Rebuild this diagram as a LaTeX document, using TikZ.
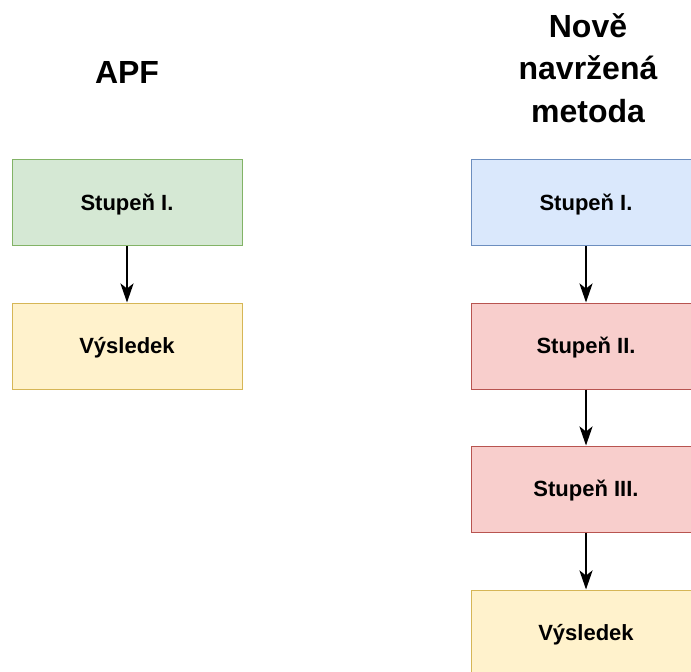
\documentclass[tikz,border=0pt]{standalone}
\usepackage{fontspec}
\setmainfont{Liberation Sans}
\usetikzlibrary{arrows.meta}
\definecolor{gfill}{HTML}{D5E8D4}\definecolor{gline}{HTML}{82B366}
\definecolor{yfill}{HTML}{FFF2CC}\definecolor{yline}{HTML}{D6B656}
\definecolor{bfill}{HTML}{DAE8FC}\definecolor{bline}{HTML}{6C8EBF}
\definecolor{rfill}{HTML}{F8CECC}\definecolor{rline}{HTML}{B85450}
\begin{document}
\begin{tikzpicture}[x=1pt,y=-1pt,
  box/.style={draw, line width=1pt, minimum width=230pt, minimum height=86pt, inner sep=0pt,
    font=\fontsize{22}{26}\selectfont\bfseries, text height=15.8pt, text depth=0pt},
  greenbox/.style={box, fill=gfill, draw=gline},
  yellowbox/.style={box, fill=yfill, draw=yline},
  bluebox/.style={box, fill=bfill, draw=bline},
  redbox/.style={box, fill=rfill, draw=rline},
  title/.style={font=\fontsize{32}{42.5}\selectfont\bfseries, align=center, anchor=base, inner sep=0pt},
  conn/.style={line width=2.6pt, -{Stealth[length=19pt,width=13pt,inset=5pt]}}]
\useasboundingbox (0,0) rectangle (691,672);
\clip (0,0) rectangle (691,672);
\node[title] (t1) at (127,83) {APF};
\node[title] (t2) at (588,122) {Nově\\navržená\\metoda};
\node[greenbox] (a1) at (127,202.5) {Stupeň I.};
\node[yellowbox] (a2) at (127,346) {Výsledek};
\node[bluebox] (b1) at (586,202.5) {Stupeň I.};
\node[redbox] (b2) at (586,346) {Stupeň II.};
\node[redbox] (b3) at (586,489) {Stupeň III.};
\node[yellowbox] (b4) at (586,633) {Výsledek};
\draw[conn] (a1) -- (a2);
\draw[conn] (b1) -- (b2);
\draw[conn] (b2) -- (b3);
\draw[conn] (b3) -- (b4);
\end{tikzpicture}
\end{document}
